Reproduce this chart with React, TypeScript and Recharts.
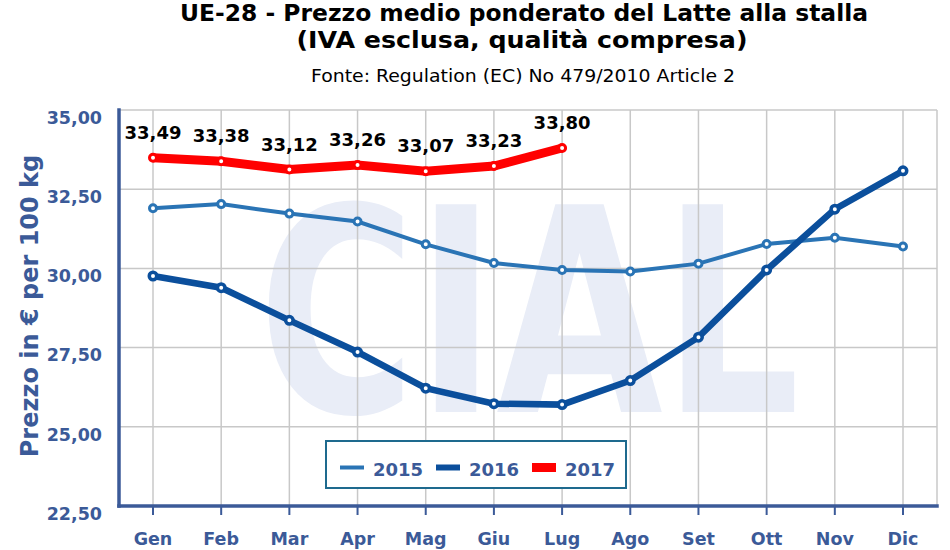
import React from 'react';
import { LineChart, Line, XAxis, YAxis, CartesianGrid, Legend, LabelList } from 'recharts';

const months = ['Gen', 'Feb', 'Mar', 'Apr', 'Mag', 'Giu', 'Lug', 'Ago', 'Set', 'Ott', 'Nov', 'Dic'];
const v2015 = [31.9, 32.03, 31.73, 31.48, 30.76, 30.17, 29.95, 29.9, 30.15, 30.77, 30.97, 30.69];
const v2016 = [29.76, 29.39, 28.36, 27.36, 26.22, 25.73, 25.7, 26.46, 27.83, 29.95, 31.87, 33.08];
const v2017 = [33.49, 33.38, 33.12, 33.26, 33.07, 33.23, 33.8];
const yTicks = [22.5, 25, 27.5, 30, 32.5, 35];
const seriesNames = ['2015', '2016', '2017'];
const titleLines = [
  'UE-28 - Prezzo medio ponderato del Latte alla stalla',
  '(IVA esclusa, qualità compresa)',
];
const sourceLine = 'Fonte: Regulation (EC) No 479/2010 Article 2';
const yLabel = 'Prezzo in € per 100 kg';
const watermark = 'CIAL';

const data = months.map((m, i) => ({
  month: m,
  y2015: v2015[i],
  y2016: v2016[i],
  y2017: i < v2017.length ? v2017[i] : null,
}));

const FONT = '"DejaVu Sans", Verdana, sans-serif';
const AXIS_BLUE = '#3b5a98';
const C2015 = '#2a74b5';
const C2016 = '#0b4f9c';
const C2017 = '#ff0000';
const legendWidths = [4, 6, 9];

const fmt = (v: any) => (v === null || v === undefined ? '' : Number(v).toFixed(2).replace('.', ','));

const YTick = (props: any) => {
  const { x, y, payload } = props;
  return (
    <text x={x} y={y + 7.5} dy="0.355em" textAnchor="end" fill={AXIS_BLUE} fontSize={17.5} fontWeight="bold" fontFamily={FONT}>
      {fmt(payload.value)}
    </text>
  );
};

const YLabel = (props: any) => {
  const vb = props.viewBox || { x: 0, y: 110, width: 119, height: 396 };
  const cx = vb.x + 38;
  const cy = vb.y + vb.height / 2 - 2;
  return (
    <text x={cx} y={cy} transform={`rotate(-90 ${cx} ${cy})`} textAnchor="middle" fill={AXIS_BLUE} fontSize={24} fontWeight="bold" fontFamily={FONT}>
      {yLabel}
    </text>
  );
};

const LegendContent = (props: any) => {
  const payload = props.payload || [];
  return (
    <svg width={302} height={49} style={{ display: 'block' }}>
      <rect x={1} y={1} width={300} height={47} fill="#fff" stroke="#1e6a8e" strokeWidth={2} />
      {payload.map((p: any, i: number) => (
        <g key={i}>
          <line x1={15 + i * 96} x2={39 + i * 96} y1={27.5} y2={27.5} stroke={p.color} strokeWidth={legendWidths[i]} />
          <text x={48 + i * 96} y={36} fill={AXIS_BLUE} fontSize={18} fontWeight="bold" fontFamily={FONT}>
            {p.value}
          </text>
        </g>
      ))}
    </svg>
  );
};

export default function App() {
  const frame = { stroke: AXIS_BLUE, strokeWidth: 3.5, strokeLinecap: 'square' as const };
  return (
    <div style={{ position: 'absolute', left: 0, top: 0, width: 950, height: 550, background: '#fff', overflow: 'hidden' }}>
      <svg width={950} height={550} style={{ position: 'absolute', left: 0, top: 0 }}>
        <text x={529} y={412} textLength={542} lengthAdjust="spacingAndGlyphs" textAnchor="middle" fill="#e9edf7" fontSize={285} fontWeight="bold" fontFamily={FONT}>
          {watermark}
        </text>
      </svg>
      <LineChart width={950} height={550} data={data} margin={{ top: 110, right: 13, bottom: 0, left: 0 }}>
        <CartesianGrid stroke="#c8c8c8" strokeWidth={1.5} />
        <XAxis
          dataKey="month"
          padding={{ left: 34, right: 34 }}
          height={44}
          interval={0}
          axisLine={frame}
          tickLine={{ stroke: AXIS_BLUE, strokeWidth: 2 }}
          tickSize={9}
          tickMargin={18}
          tick={{ fill: AXIS_BLUE, fontSize: 17.5, fontWeight: 'bold', fontFamily: FONT }}
        />
        <XAxis xAxisId="top" orientation="top" dataKey="month" height={0} tick={false} tickLine={false} axisLine={frame} />
        <YAxis
          domain={[22.5, 35]}
          ticks={yTicks}
          width={119}
          axisLine={frame}
          tickLine={false}
          tickSize={6}
          tickMargin={11}
          tick={<YTick />}
          label={{ content: <YLabel /> }}
        />
        <YAxis yAxisId="right" orientation="right" domain={[22.5, 35]} width={0} tick={false} tickLine={false} axisLine={frame} />
        <Legend
          layout="vertical"
          align="center"
          verticalAlign="middle"
          content={<LegendContent />}
          wrapperStyle={{ position: 'absolute', left: 325, top: 440, width: 302, height: 49 }}
        />
        <Line
          type="linear"
          dataKey="y2015"
          name={seriesNames[0]}
          stroke={C2015}
          strokeWidth={4}
          dot={{ r: 3.5, fill: '#fff', stroke: C2015, strokeWidth: 3 }}
          activeDot={false}
          isAnimationActive={false}
        />
        <Line
          type="linear"
          dataKey="y2016"
          name={seriesNames[1]}
          stroke={C2016}
          strokeWidth={6.5}
          dot={{ r: 3.75, fill: '#fff', stroke: C2016, strokeWidth: 3.5 }}
          activeDot={false}
          isAnimationActive={false}
        />
        <Line
          type="linear"
          dataKey="y2017"
          name={seriesNames[2]}
          stroke={C2017}
          strokeWidth={9}
          dot={{ r: 3.5, fill: '#fff', stroke: C2017, strokeWidth: 3 }}
          activeDot={false}
          isAnimationActive={false}
        >
          <LabelList
            dataKey="y2017"
            position="top"
            offset={19}
            formatter={fmt}
            fill="#000"
            fontSize={18}
            fontWeight="bold"
            fontFamily={FONT}
          />
        </Line>
      </LineChart>
      <svg width={950} height={100} style={{ position: 'absolute', left: 0, top: 0, pointerEvents: 'none' }}>
        <text x={524} y={21} textAnchor="middle" textLength={688} lengthAdjust="spacingAndGlyphs" fill="#000" fontSize={22.5} fontWeight="bold" fontFamily={FONT}>
          {titleLines[0]}
        </text>
        <text x={522} y={48} textAnchor="middle" textLength={451} lengthAdjust="spacingAndGlyphs" fill="#000" fontSize={22.5} fontWeight="bold" fontFamily={FONT}>
          {titleLines[1]}
        </text>
        <text x={523} y={82} textAnchor="middle" textLength={424} lengthAdjust="spacingAndGlyphs" fill="#000" fontSize={18.5} fontFamily={FONT}>
          {sourceLine}
        </text>
      </svg>
    </div>
  );
}
